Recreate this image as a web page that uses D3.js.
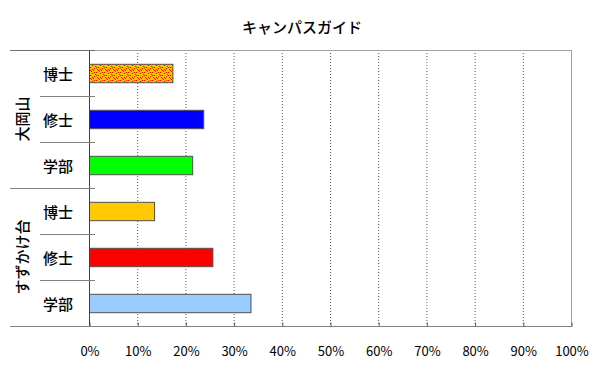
<!DOCTYPE html>
<html><head><meta charset="utf-8">
<script src="https://cdn.jsdelivr.net/npm/d3@7"></script>
<style>
html,body{margin:0;padding:0;background:#fff;}
text{font-family:"Noto Sans CJK JP","Noto Sans",sans-serif;fill:#000;}
</style></head>
<body><svg id="c" width="600" height="372"></svg>
<script>
const title = "キャンパスガイド";
const campuses = ["大岡山", "すずかけ台"];
const degrees = ["博士", "修士", "学部"];
const valuesOokayama = [17.3, 23.7, 21.4];
const valuesSuzukake = [13.5, 25.6, 33.5];
const colorsOokayama = ["url(#confetti)", "#0000FF", "#00FF00"];
const colorsSuzukake = ["#FFC800", "#FF0000", "#99CCFF"];
const xTicks = [0,10,20,30,40,50,60,70,80,90,100];

const rows = [];
campuses.forEach((c, ci) => {
  const vals = ci === 0 ? valuesOokayama : valuesSuzukake;
  const cols = ci === 0 ? colorsOokayama : colorsSuzukake;
  degrees.forEach((d, di) => rows.push({campus: c, degree: d, value: vals[di], color: cols[di], key: c + "|" + d}));
});

const svg = d3.select("#c");
const L = 89, R = 571, T = 50, B = 326;

const defs = svg.append("defs");
const pat = defs.append("pattern").attr("id", "confetti").attr("patternUnits", "userSpaceOnUse")
  .attr("width", 8).attr("height", 8);
pat.append("rect").attr("width", 8).attr("height", 8).attr("fill", "#FFC000");
[[0,0],[4,1],[2,3],[6,4],[1,5],[5,6],[3,7],[7,2],[6,0],[2,6],[0,3],[4,5]].forEach(p =>
  pat.append("rect").attr("x", p[0]).attr("y", p[1]).attr("width", 1).attr("height", 1).attr("fill", "#FF0000"));

const x = d3.scaleLinear().domain([0, 100]).range([L, R]);
const y = d3.scaleBand().domain(rows.map(r => r.key)).range([T, B]).paddingInner(0.6).paddingOuter(0.3);
const step = y.step();

// title
svg.append("text").attr("x", 302).attr("y", 33).attr("text-anchor", "middle")
  .attr("font-size", 15).attr("font-weight", 500).text(title);

// gridlines
svg.append("g").selectAll("line").data(xTicks.filter(t => t > 0 && t < 100)).join("line")
  .attr("x1", d => x(d) + 0.5).attr("x2", d => x(d) + 0.5).attr("y1", T).attr("y2", B)
  .attr("stroke", "#555").attr("stroke-width", 1).attr("stroke-dasharray", "1,2");

// plot border top/right
svg.append("line").attr("x1", L).attr("x2", R + 0.5).attr("y1", T + 0.5).attr("y2", T + 0.5).attr("stroke", "#a0a0a0");
svg.append("line").attr("x1", R + 0.5).attr("x2", R + 0.5).attr("y1", T).attr("y2", B).attr("stroke", "#a0a0a0");

// bars
svg.append("g").selectAll("rect").data(rows).join("rect")
  .attr("x", x(0) + 0.5).attr("y", d => y(d.key) + 0.5)
  .attr("width", d => x(d.value) - x(0)).attr("height", y.bandwidth())
  .attr("fill", d => d.color).attr("stroke", "#505050").attr("stroke-width", 1);

// x axis
const xAxis = d3.axisBottom(x).tickValues(xTicks).tickSize(-4).tickPadding(20).tickFormat(d => d + "%");
const gx = svg.append("g").attr("transform", `translate(0.5,${B + 0.5})`).call(xAxis);
gx.select(".domain").remove();
gx.selectAll(".tick line").attr("stroke", "#555");
gx.selectAll("text").attr("font-size", 13).attr("font-family", "'Noto Sans CJK JP',sans-serif").attr("fill", "#000");
svg.append("line").attr("x1", 10).attr("x2", R + 1).attr("y1", B + 0.5).attr("y2", B + 0.5).attr("stroke", "#808080");

// y axis line
svg.append("line").attr("x1", L + 0.5).attr("x2", L + 0.5).attr("y1", T).attr("y2", B).attr("stroke", "#404040");

// category separators
const bounds = d3.range(rows.length + 1).map(i => T + i * step);
svg.append("g").selectAll("line").data(bounds.slice(0, rows.length)).join("line")
  .attr("x1", (d, i) => i % 3 === 0 ? 10 : 40).attr("x2", L + 6)
  .attr("y1", d => Math.round(d) + 0.5).attr("y2", d => Math.round(d) + 0.5)
  .attr("stroke", (d, i) => i === 0 ? "#707070" : "#808080");

// degree labels
svg.append("g").selectAll("text").data(rows).join("text")
  .attr("x", 58).attr("y", d => y(d.key) + y.bandwidth() / 2)
  .attr("text-anchor", "middle").attr("dominant-baseline", "central")
  .attr("font-size", 15).attr("font-weight", 500).text(d => d.degree);

// campus labels
svg.append("g").selectAll("text").data(campuses).join("text")
  .attr("transform", (c, i) => {
    const y0 = y(c + "|" + degrees[0]) - step * 0.3;
    const y1 = y(c + "|" + degrees[2]) + y.bandwidth() + step * 0.3;
    return `translate(21,${(y0 + y1) / 2}) rotate(-90)`;
  })
  .attr("text-anchor", "middle").attr("dominant-baseline", "central")
  .attr("font-size", 15).attr("font-weight", 500).text(d => d);
</script></body></html>
